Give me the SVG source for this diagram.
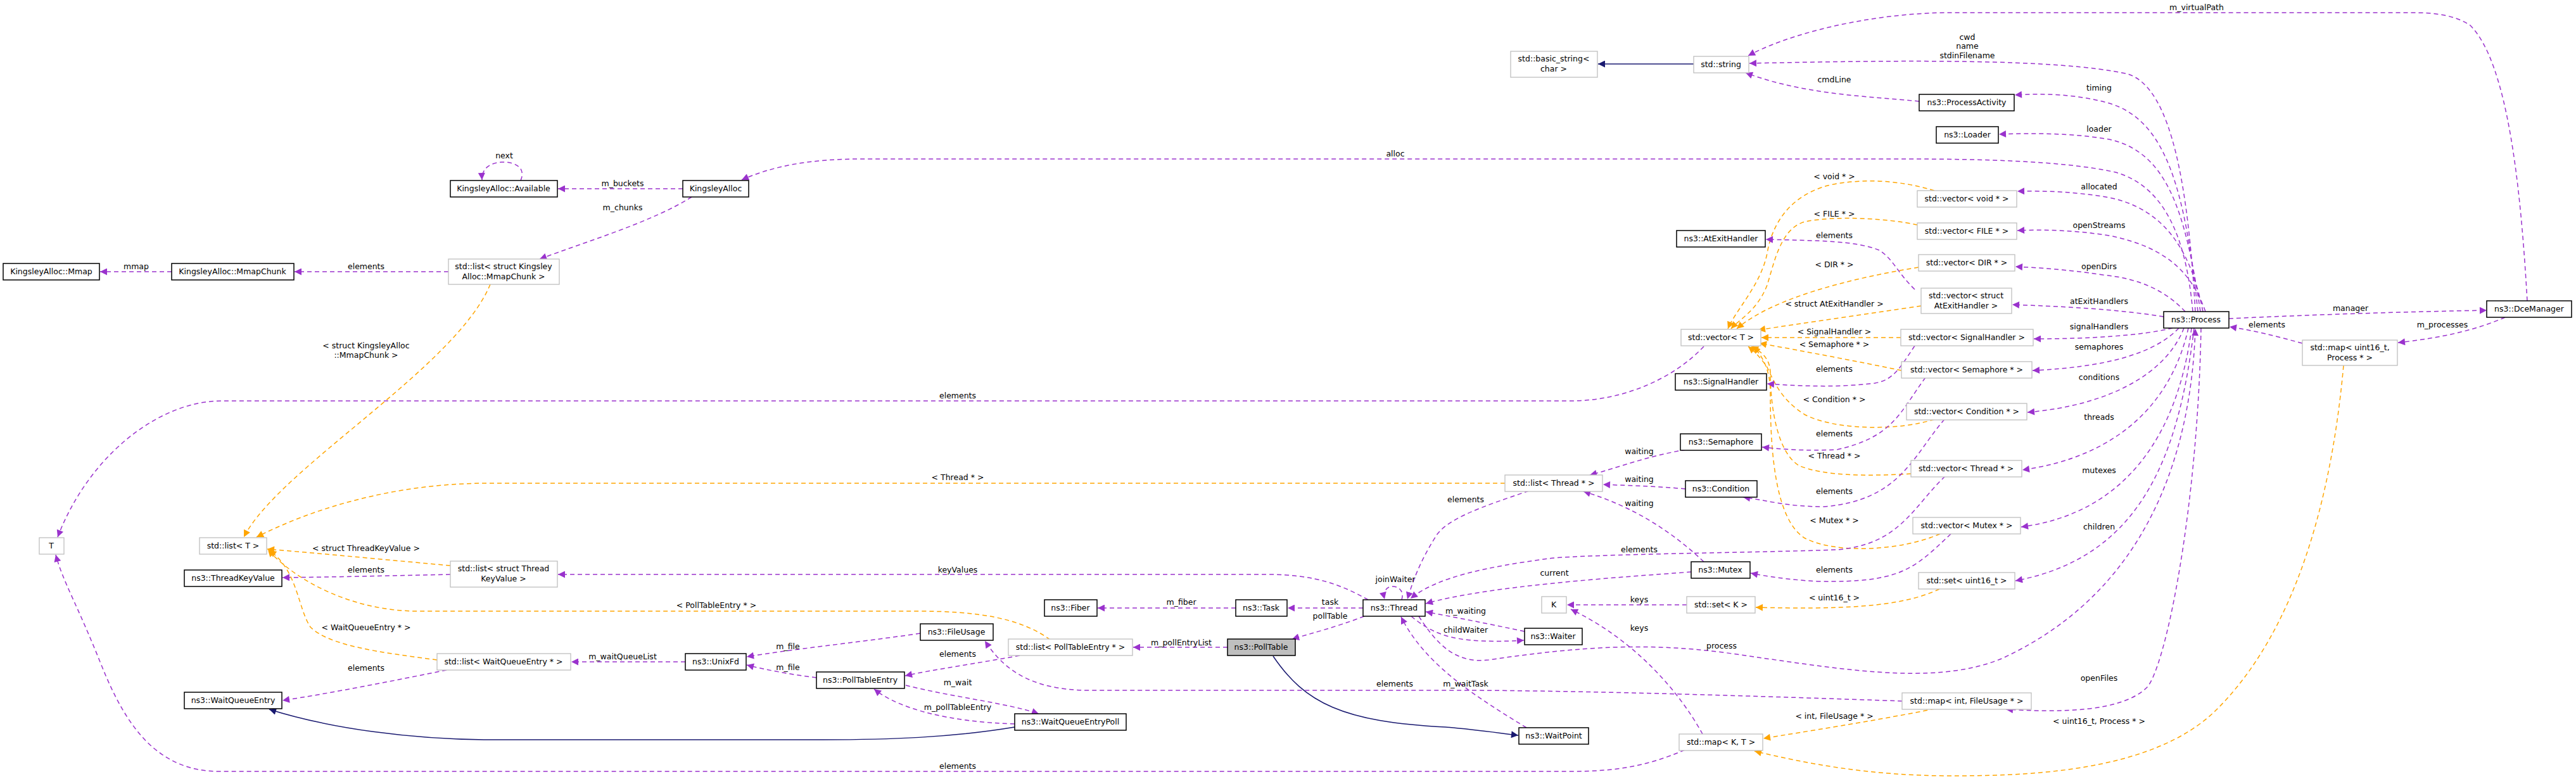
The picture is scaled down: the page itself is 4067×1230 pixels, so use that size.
<svg xmlns="http://www.w3.org/2000/svg" width="4067" height="1230" viewBox="0 0 4067 1230">
<style>
text{font-family:"DejaVu Sans",sans-serif;font-size:12.5px;fill:#000;text-anchor:middle}
.n rect{fill:#fff;stroke:#000;stroke-width:1.5}
.g rect{fill:#fff;stroke:#bfbfbf;stroke-width:1.3}
.p{fill:none;stroke:#9a32cd;stroke-width:1.5;stroke-dasharray:7,5;marker-end:url(#ap)}
.o{fill:none;stroke:#ffa500;stroke-width:1.5;stroke-dasharray:7,5;marker-end:url(#ao)}
.b{fill:none;stroke:#191970;stroke-width:1.5;marker-end:url(#ab)}
</style>
<defs>
<marker id="ap" viewBox="0 0 10 10" refX="10" refY="5" markerWidth="13" markerHeight="11" markerUnits="userSpaceOnUse" orient="auto"><path d="M0,0L10,5L0,10z" fill="#9a32cd"/></marker>
<marker id="ao" viewBox="0 0 10 10" refX="10" refY="5" markerWidth="13" markerHeight="11" markerUnits="userSpaceOnUse" orient="auto"><path d="M0,0L10,5L0,10z" fill="#ffa500"/></marker>
<marker id="ab" viewBox="0 0 10 10" refX="10" refY="5" markerWidth="13" markerHeight="11" markerUnits="userSpaceOnUse" orient="auto"><path d="M0,0L10,5L0,10z" fill="#191970"/></marker>
</defs>
<rect width="4067" height="1230" fill="#fff"/>
<g id="edges">
<path class="p" d="M822,285 C832,262 808,255 792,256 C774,257 760,266 761,284"/><text x="796" y="250">next</text>
<path class="p" d="M1078,298 L881,298"/><text x="983" y="294">m_buckets</text>
<path class="p" d="M1092,311 C1030,350 930,380 852,409"/><text x="983" y="332">m_chunks</text>
<path class="p" d="M708,429 L465,429"/><text x="578" y="425">elements</text>
<path class="p" d="M271,429 L158,429"/><text x="215" y="425">mmap</text>
<path class="o" d="M774,449 C720,580 440,740 385,848"/><text x="578" y="550">&lt; struct KingsleyAlloc</text><text x="578" y="565">::MmapChunk &gt;</text>
<path class="p" d="M3462,492 C3452,380 3420,295 3340,272 C3250,252 3100,251 3000,251 L1360,251 C1280,251 1220,262 1171,284"/><text x="2203" y="247">alloc</text>
<path class="p" d="M3466,492 C3455,300 3430,140 3360,117 C3250,92 3000,95 2762,100"/><text x="3106" y="63">cwd</text><text x="3106" y="77">name</text><text x="3106" y="92">stdinFilename</text>
<path class="p" d="M3030,160 C2950,152 2850,150 2756,115"/><text x="2896" y="130">cmdLine</text>
<path class="b" d="M2674,101 L2523,101"/>
<path class="p" d="M3990,475 C3980,300 3960,100 3900,40 C3870,20 3830,20 3800,20 L3080,20 C2950,20 2820,55 2760,88"/><text x="3468" y="16">m_virtualPath</text>
<path class="p" d="M3470,492 C3450,300 3420,190 3330,163 C3280,149 3230,147 3181,150"/><text x="3314" y="143">timing</text>
<path class="p" d="M3474,492 C3450,330 3420,240 3330,220 C3270,210 3210,210 3156,212"/><text x="3314" y="208">loader</text>
<path class="p" d="M3478,492 C3460,400 3420,330 3330,312 C3280,303 3230,301 3185,302"/><text x="3314" y="299">allocated</text>
<path class="p" d="M3482,492 C3460,430 3420,390 3330,372 C3280,364 3230,362 3185,364"/><text x="3314" y="360">openStreams</text>
<path class="p" d="M3450,492 C3420,460 3380,440 3320,434 C3260,425 3220,423 3182,421"/><text x="3314" y="425">openDirs</text>
<path class="p" d="M3416,500 C3340,488 3260,484 3177,481"/><text x="3314" y="480">atExitHandlers</text>
<path class="p" d="M3519,503 C3650,497 3800,492 3926,490"/><text x="3711" y="491">manager</text>
<path class="p" d="M3635,542 C3590,530 3560,522 3520,516"/><text x="3579" y="517">elements</text>
<path class="p" d="M3955,501 C3900,525 3840,535 3786,541"/><text x="3856" y="517">m_processes</text>
<path class="p" d="M3430,518 C3380,530 3300,535 3211,535"/><text x="3314" y="520">signalHandlers</text>
<path class="p" d="M3440,518 C3400,560 3320,580 3209,585"/><text x="3314" y="552">semaphores</text>
<path class="p" d="M3448,518 C3420,590 3330,640 3201,651"/><text x="3314" y="600">conditions</text>
<path class="p" d="M3455,518 C3430,630 3350,720 3193,742"/><text x="3314" y="663">threads</text>
<path class="p" d="M3460,518 C3440,680 3360,810 3191,832"/><text x="3314" y="747">mutexes</text>
<path class="p" d="M3464,518 C3440,720 3380,880 3182,917"/><text x="3314" y="836">children</text>
<path class="p" d="M3475,518 C3470,800 3420,1050 3390,1085 C3350,1125 3250,1125 3167,1120"/><text x="3314" y="1075">openFiles</text>
<path class="p" d="M2240,973 C2270,1020 2300,1048 2350,1042 C2500,1020 2600,1015 2720,1030 C2900,1055 3050,1085 3160,1040 C3400,930 3460,700 3466,519"/><text x="2718" y="1024">process</text>
<path class="o" d="M3700,577 C3680,800 3620,1000 3500,1120 C3400,1220 3200,1225 3080,1225 C2950,1225 2850,1205 2770,1186"/><text x="3314" y="1143">&lt; uint16_t, Process * &gt;</text>
<path class="o" d="M3054,301 C3000,285 2950,282 2900,290 C2840,300 2800,340 2790,400 C2780,450 2740,490 2728,519"/><text x="2896" y="283">&lt; void * &gt;</text>
<path class="o" d="M3027,355 C2980,345 2900,340 2850,350 C2810,360 2800,420 2790,450 C2775,490 2745,505 2733,519"/><text x="2896" y="342">&lt; FILE * &gt;</text>
<path class="p" d="M3023,457 C2995,430 2990,410 2967,395 C2930,380 2870,380 2788,378"/><text x="2896" y="376">elements</text>
<path class="o" d="M3029,422 C2920,440 2800,470 2742,519"/><text x="2896" y="422">&lt; DIR * &gt;</text>
<path class="o" d="M3033,483 C2950,495 2850,510 2776,521"/><text x="2896" y="484">&lt; struct AtExitHandler &gt;</text>
<path class="o" d="M3001,533 L2781,533"/><text x="2896" y="528">&lt; SignalHandler &gt;</text>
<path class="o" d="M3002,585 C2930,570 2850,555 2778,542"/><text x="2896" y="548">&lt; Semaphore * &gt;</text>
<path class="o" d="M3054,662 C3000,680 2900,680 2850,655 C2810,630 2800,600 2790,580 C2780,565 2770,555 2760,547"/><text x="2896" y="635">&lt; Condition * &gt;</text>
<path class="o" d="M3017,748 C2950,752 2880,752 2840,735 C2800,710 2795,620 2795,590 C2795,565 2780,555 2765,547"/><text x="2896" y="724">&lt; Thread * &gt;</text>
<path class="o" d="M3063,843 C3000,870 2900,875 2850,850 C2800,820 2795,700 2795,620 C2795,580 2780,560 2768,547"/><text x="2896" y="826">&lt; Mutex * &gt;</text>
<path class="p" d="M2690,547 C2640,600 2560,633 2480,633 L350,633 C250,633 140,720 91,848"/><text x="1512" y="629">elements</text>
<path class="p" d="M3023,546 C3000,580 2990,600 2960,605 C2900,612 2850,610 2790,606"/><text x="2896" y="587">elements</text>
<path class="p" d="M3040,596 C3000,650 2990,690 2900,710 C2850,712 2820,710 2782,706"/><text x="2896" y="689">elements</text>
<path class="p" d="M3070,662 C3020,720 3000,790 2880,800 C2820,800 2790,790 2752,785"/><text x="2896" y="780">elements</text>
<path class="p" d="M3080,843 C3020,900 3000,920 2870,918 C2820,915 2790,910 2764,905"/><text x="2896" y="904">elements</text>
<path class="p" d="M3071,752 C3020,800 3000,860 2900,868 C2800,872 2500,875 2444,882 C2350,895 2270,910 2227,945"/><text x="2588" y="872">elements</text>
<path class="p" d="M2662,710 C2600,720 2550,740 2510,750"/><text x="2588" y="717">waiting</text>
<path class="p" d="M2661,772 C2620,768 2580,767 2531,765"/><text x="2588" y="761">waiting</text>
<path class="p" d="M2690,887 C2640,840 2580,800 2500,776"/><text x="2588" y="799">waiting</text>
<path class="o" d="M2376,763 L770,763 C650,763 520,790 405,848"/><text x="1512" y="758">&lt; Thread * &gt;</text>
<path class="p" d="M2414,775 C2340,800 2280,820 2265,850 C2240,890 2230,920 2222,946"/><text x="2314" y="793">elements</text>
<path class="p" d="M2670,903 C2550,912 2350,925 2251,953"/><text x="2454" y="909">current</text>
<path class="p" d="M2213,947 C2220,925 2192,920 2187,933 C2185,938 2185,942 2186,946"/><text x="2203" y="919">joinWaiter</text>
<path class="p" d="M2160,947 C2120,925 2080,907 2000,907 L881,907"/><text x="1512" y="904">keyValues</text>
<path class="o" d="M711,893 C620,885 520,875 422,867"/><text x="578" y="870">&lt; struct ThreadKeyValue &gt;</text>
<path class="p" d="M711,907 C620,909 530,911 446,912"/><text x="578" y="904">elements</text>
<path class="p" d="M2152,960 L2033,960"/><text x="2100" y="955">task</text>
<path class="p" d="M1951,960 L1733,960"/><text x="1865" y="955">m_fiber</text>
<path class="p" d="M2154,973 C2110,990 2070,1000 2040,1009"/><text x="2100" y="977">pollTable</text>
<path class="p" d="M2407,997 C2350,985 2300,975 2251,966"/><text x="2314" y="969">m_waiting</text>
<path class="p" d="M2228,973 C2260,1000 2290,1010 2340,1012 C2370,1013 2390,1012 2406,1011"/><text x="2314" y="999">childWaiter</text>
<path class="p" d="M2410,1149 C2330,1100 2250,1050 2212,974"/><text x="2314" y="1084">m_waitTask</text>
<path class="b" d="M2010,1036 C2060,1110 2120,1140 2282,1148 C2330,1152 2370,1158 2397,1161"/>
<path class="p" d="M1938,1022 L1789,1022"/><text x="1865" y="1019">m_pollEntryList</text>
<path class="p" d="M1610,1035 C1540,1048 1480,1056 1429,1067"/><text x="1512" y="1037">elements</text>
<path class="o" d="M1658,1010 C1610,975 1540,965 1450,965 L660,965 C560,965 470,920 423,868"/><text x="1131" y="960">&lt; PollTableEntry * &gt;</text>
<path class="p" d="M3003,1107 C2800,1100 2500,1090 2300,1090 L1720,1090 C1620,1090 1580,1050 1555,1012"/><text x="2202" y="1084">elements</text>
<path class="p" d="M1453,1000 C1350,1015 1250,1025 1179,1037"/><text x="1244" y="1025">m_file</text>
<path class="p" d="M1289,1070 C1250,1065 1210,1058 1179,1050"/><text x="1244" y="1058">m_file</text>
<path class="p" d="M1082,1045 L902,1045"/><text x="983" y="1041">m_waitQueueList</text>
<path class="p" d="M705,1058 C620,1075 520,1095 446,1106"/><text x="578" y="1059">elements</text>
<path class="o" d="M690,1042 C600,1030 520,1020 490,990 C470,960 470,900 425,869"/><text x="578" y="995">&lt; WaitQueueEntry * &gt;</text>
<path class="p" d="M1430,1082 C1500,1100 1590,1110 1640,1127"/><text x="1512" y="1082">m_wait</text>
<path class="p" d="M1602,1143 C1500,1140 1420,1120 1380,1088"/><text x="1512" y="1121">m_pollTableEntry</text>
<path class="b" d="M1602,1148 C1500,1165 1400,1168 1300,1168 L780,1168 C650,1168 520,1150 425,1120"/>
<path class="p" d="M2660,1184 C2600,1210 2550,1218 2480,1218 L347,1218 C250,1218 200,1150 160,1050 C120,950 100,920 88,876"/><text x="1512" y="1214">elements</text>
<path class="o" d="M3055,1119 C2950,1140 2850,1155 2784,1166"/><text x="2896" y="1135">&lt; int, FileUsage * &gt;</text>
<path class="o" d="M3062,930 C3000,960 2900,962 2772,959"/><text x="2896" y="948">&lt; uint16_t &gt;</text>
<path class="p" d="M2663,955 L2474,955"/><text x="2588" y="951">keys</text>
<path class="p" d="M2688,1159 C2650,1090 2580,1010 2480,962"/><text x="2588" y="996">keys</text>
</g>
<g id="n_mmap" class="n"><rect x="5" y="416" width="152" height="26"/><text x="81" y="433">KingsleyAlloc::Mmap</text></g>
<g id="n_mmapchunk" class="n"><rect x="271" y="416" width="193" height="26"/><text x="367" y="433">KingsleyAlloc::MmapChunk</text></g>
<g id="n_listmmap" class="g"><rect x="708" y="409" width="175" height="40"/><text x="795" y="425">std::list&lt; struct Kingsley</text><text x="795" y="441">Alloc::MmapChunk &gt;</text></g>
<g id="n_available" class="n"><rect x="711" y="285" width="169" height="26"/><text x="795" y="302">KingsleyAlloc::Available</text></g>
<g id="n_kingsley" class="n"><rect x="1078" y="285" width="104" height="26"/><text x="1130" y="302">KingsleyAlloc</text></g>
<g id="n_T" class="g"><rect x="62" y="849" width="39" height="26"/><text x="81" y="866">T</text></g>
<g id="n_listT" class="g"><rect x="315" y="849" width="106" height="26"/><text x="368" y="866">std::list&lt; T &gt;</text></g>
<g id="n_tkv" class="n"><rect x="291" y="900" width="154" height="26"/><text x="368" y="917">ns3::ThreadKeyValue</text></g>
<g id="n_listtkv" class="g"><rect x="711" y="886" width="169" height="41"/><text x="795" y="902">std::list&lt; struct Thread</text><text x="795" y="918">KeyValue &gt;</text></g>
<g id="n_wqe" class="n"><rect x="291" y="1093" width="154" height="26"/><text x="368" y="1110">ns3::WaitQueueEntry</text></g>
<g id="n_listwqe" class="g"><rect x="690" y="1032" width="211" height="26"/><text x="795" y="1049">std::list&lt; WaitQueueEntry * &gt;</text></g>
<g id="n_unixfd" class="n"><rect x="1082" y="1032" width="96" height="26"/><text x="1130" y="1049">ns3::UnixFd</text></g>
<g id="n_pte" class="n"><rect x="1289" y="1061" width="139" height="26"/><text x="1358" y="1078">ns3::PollTableEntry</text></g>
<g id="n_wqep" class="n"><rect x="1602" y="1127" width="176" height="26"/><text x="1690" y="1144">ns3::WaitQueueEntryPoll</text></g>
<g id="n_fileusage" class="n"><rect x="1453" y="985" width="115" height="26"/><text x="1510" y="1002">ns3::FileUsage</text></g>
<g id="n_listpte" class="g"><rect x="1592" y="1009" width="196" height="26"/><text x="1690" y="1026">std::list&lt; PollTableEntry * &gt;</text></g>
<g id="n_polltable" class="n"><rect x="1938" y="1009" width="107" height="26" style="fill:#bfbfbf"/><text x="1991" y="1026">ns3::PollTable</text></g>
<g id="n_fiber" class="n"><rect x="1649" y="947" width="83" height="26"/><text x="1690" y="964">ns3::Fiber</text></g>
<g id="n_task" class="n"><rect x="1951" y="947" width="81" height="26"/><text x="1991" y="964">ns3::Task</text></g>
<g id="n_thread" class="n"><rect x="2152" y="947" width="98" height="26"/><text x="2201" y="964">ns3::Thread</text></g>
<g id="n_waiter" class="n"><rect x="2407" y="992" width="91" height="26"/><text x="2452" y="1009">ns3::Waiter</text></g>
<g id="n_waitpoint" class="n"><rect x="2398" y="1149" width="110" height="26"/><text x="2453" y="1166">ns3::WaitPoint</text></g>
<g id="n_K" class="g"><rect x="2434" y="942" width="39" height="26"/><text x="2453" y="959">K</text></g>
<g id="n_setK" class="g"><rect x="2663" y="942" width="108" height="26"/><text x="2717" y="959">std::set&lt; K &gt;</text></g>
<g id="n_mapKT" class="g"><rect x="2651" y="1159" width="132" height="26"/><text x="2717" y="1176">std::map&lt; K, T &gt;</text></g>
<g id="n_listthread" class="g"><rect x="2376" y="750" width="154" height="26"/><text x="2453" y="767">std::list&lt; Thread * &gt;</text></g>
<g id="n_semaphore" class="n"><rect x="2653" y="685" width="128" height="26"/><text x="2717" y="702">ns3::Semaphore</text></g>
<g id="n_condition" class="n"><rect x="2661" y="759" width="113" height="26"/><text x="2717" y="776">ns3::Condition</text></g>
<g id="n_mutex" class="n"><rect x="2670" y="887" width="93" height="26"/><text x="2716" y="904">ns3::Mutex</text></g>
<g id="n_basicstring" class="g"><rect x="2385" y="81" width="137" height="41"/><text x="2453" y="97">std::basic_string&lt;</text><text x="2453" y="113">char &gt;</text></g>
<g id="n_string" class="g"><rect x="2674" y="89" width="87" height="26"/><text x="2717" y="106">std::string</text></g>
<g id="n_atexit" class="n"><rect x="2647" y="364" width="140" height="26"/><text x="2717" y="381">ns3::AtExitHandler</text></g>
<g id="n_vecT" class="g"><rect x="2654" y="520" width="126" height="26"/><text x="2717" y="537">std::vector&lt; T &gt;</text></g>
<g id="n_sighandler" class="n"><rect x="2645" y="590" width="144" height="26"/><text x="2717" y="607">ns3::SignalHandler</text></g>
<g id="n_procact" class="n"><rect x="3030" y="149" width="150" height="26"/><text x="3105" y="166">ns3::ProcessActivity</text></g>
<g id="n_loader" class="n"><rect x="3057" y="200" width="98" height="26"/><text x="3106" y="217">ns3::Loader</text></g>
<g id="n_vvoid" class="g"><rect x="3027" y="301" width="157" height="26"/><text x="3105" y="318">std::vector&lt; void * &gt;</text></g>
<g id="n_vfile" class="g"><rect x="3027" y="352" width="157" height="26"/><text x="3105" y="369">std::vector&lt; FILE * &gt;</text></g>
<g id="n_vdir" class="g"><rect x="3029" y="402" width="152" height="26"/><text x="3105" y="419">std::vector&lt; DIR * &gt;</text></g>
<g id="n_vatexit" class="g"><rect x="3033" y="455" width="143" height="40"/><text x="3104" y="471">std::vector&lt; struct</text><text x="3104" y="487">AtExitHandler &gt;</text></g>
<g id="n_process" class="n"><rect x="3416" y="492" width="103" height="26"/><text x="3467" y="509">ns3::Process</text></g>
<g id="n_dce" class="n"><rect x="3926" y="475" width="134" height="26"/><text x="3993" y="492">ns3::DceManager</text></g>
<g id="n_mapproc" class="g"><rect x="3635" y="537" width="150" height="40"/><text x="3710" y="553">std::map&lt; uint16_t,</text><text x="3710" y="569">Process * &gt;</text></g>
<g id="n_vsig" class="g"><rect x="3001" y="520" width="209" height="26"/><text x="3105" y="537">std::vector&lt; SignalHandler &gt;</text></g>
<g id="n_vsem" class="g"><rect x="3002" y="571" width="206" height="26"/><text x="3105" y="588">std::vector&lt; Semaphore * &gt;</text></g>
<g id="n_vcond" class="g"><rect x="3010" y="637" width="190" height="26"/><text x="3105" y="654">std::vector&lt; Condition * &gt;</text></g>
<g id="n_vthread" class="g"><rect x="3017" y="727" width="175" height="26"/><text x="3104" y="744">std::vector&lt; Thread * &gt;</text></g>
<g id="n_vmutex" class="g"><rect x="3020" y="817" width="170" height="26"/><text x="3105" y="834">std::vector&lt; Mutex * &gt;</text></g>
<g id="n_setu" class="g"><rect x="3029" y="904" width="152" height="26"/><text x="3105" y="921">std::set&lt; uint16_t &gt;</text></g>
<g id="n_mapint" class="g"><rect x="3003" y="1094" width="204" height="26"/><text x="3105" y="1111">std::map&lt; int, FileUsage * &gt;</text></g>
</svg>
